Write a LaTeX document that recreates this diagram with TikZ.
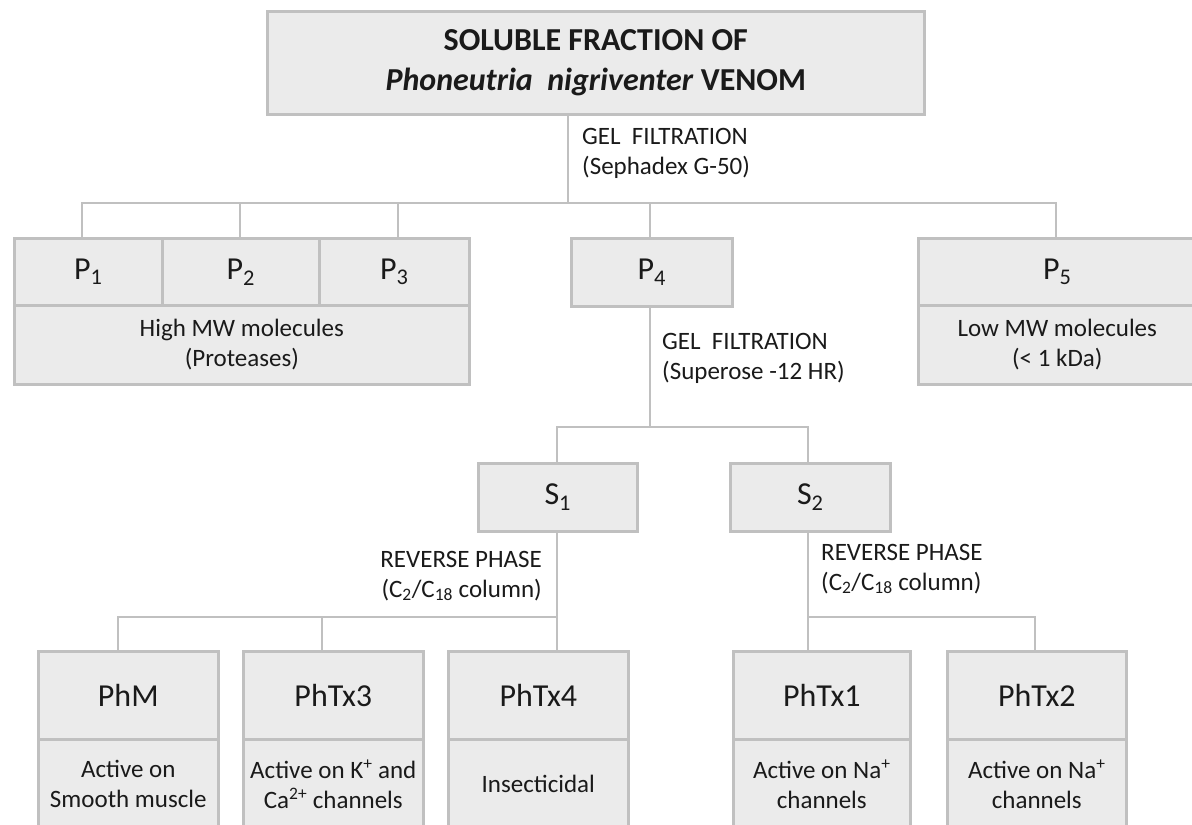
\documentclass[tikz,border=0pt]{standalone}
\usepackage{fontspec}
\setmainfont{Carlito}
\definecolor{boxfill}{HTML}{EBEBEB}
\definecolor{boxline}{HTML}{C0C0C0}
\definecolor{txt}{HTML}{1A1A1A}
\tikzset{
  box/.style={draw=boxline, fill=boxfill, line width=2.6pt, inner sep=0pt, text=txt, align=center, anchor=north west},
  conn/.style={draw=boxline, line width=2.2pt},
  lbl/.style={inner sep=0pt, text=txt, font=\fontsize{25}{30}\selectfont},
  big/.style={font=\fontsize{32}{36}\selectfont},
  desc/.style={font=\fontsize{25}{30}\selectfont},
}
\begin{document}
\begin{tikzpicture}[x=1pt,y=-1pt]
\useasboundingbox (0,0) rectangle (1192,825);
\clip (0,0) rectangle (1192,825);
\fill[white] (0,0) rectangle (1192,825);

% ---------- junction coordinates ----------
\coordinate (j0) at (568,203);
\coordinate (c1) at (82,203);
\coordinate (c2) at (240,203);
\coordinate (c3) at (398,203);
\coordinate (c4) at (650,203);
\coordinate (c5) at (1056,203);
\coordinate (j1) at (650,427);
\coordinate (s1x) at (557,427);
\coordinate (s2x) at (808,427);
\coordinate (k1) at (557,617);
\coordinate (kM) at (118,617);
\coordinate (k3) at (322,617);
\coordinate (k2) at (808,617);
\coordinate (kT2) at (1035,617);

% ---------- boxes ----------
\node[box, minimum width=657pt, minimum height=103pt, font=\bfseries\fontsize{32}{40}\selectfont] (top) at (266,10)
  {SOLUBLE FRACTION OF\\\textit{Phoneutria\ \ nigriventer} VENOM};

\node[box, big, minimum width=148pt, minimum height=67pt] (P1) at (13,237) {P\textsubscript{1}};
\node[box, big, minimum width=157pt, minimum height=67pt] (P2) at (161,237) {P\textsubscript{2}};
\node[box, big, minimum width=150pt, minimum height=67pt] (P3) at (318,237) {P\textsubscript{3}};
\node[box, desc, minimum width=455pt, minimum height=79pt] (HMW) at (13,304) {High MW molecules\\(Proteases)};

\node[box, big, minimum width=161pt, minimum height=68pt] (P4) at (570,237) {P\textsubscript{4}};

\node[box, big, minimum width=278pt, minimum height=67pt] (P5) at (917,237) {P\textsubscript{5}};
\node[box, desc, minimum width=278pt, minimum height=79pt] (LMW) at (917,304) {Low MW molecules\\(< 1 kDa)};

\node[box, big, minimum width=159pt, minimum height=68pt] (S1) at (477,462) {S\textsubscript{1}};
\node[box, big, minimum width=160pt, minimum height=68pt] (S2) at (729,462) {S\textsubscript{2}};

\node[box, big, minimum width=180pt, minimum height=88pt] (PhM) at (37,650) {PhM};
\node[box, desc, minimum width=180pt, minimum height=90pt] (PhMd) at (37,738) {Active on\\Smooth muscle};
\node[box, big, minimum width=180pt, minimum height=88pt] (Tx3) at (242,650) {PhTx3};
\node[box, desc, minimum width=180pt, minimum height=90pt] (Tx3d) at (242,738) {Active on K\textsuperscript{+} and\\Ca\textsuperscript{2+} channels};
\node[box, big, minimum width=180pt, minimum height=88pt] (Tx4) at (447,650) {PhTx4};
\node[box, desc, minimum width=180pt, minimum height=90pt] (Tx4d) at (447,738) {Insecticidal};
\node[box, big, minimum width=177pt, minimum height=88pt] (Tx1) at (732,650) {PhTx1};
\node[box, desc, minimum width=177pt, minimum height=90pt] (Tx1d) at (732,738) {Active on Na\textsuperscript{+}\\channels};
\node[box, big, minimum width=179pt, minimum height=88pt] (Tx2) at (946,650) {PhTx2};
\node[box, desc, minimum width=179pt, minimum height=90pt] (Tx2d) at (946,738) {Active on Na\textsuperscript{+}\\channels};

% ---------- connectors ----------
\draw[conn] (top.south -| j0) -- (j0);
\draw[conn] (P1.north -| c1) -- (c1) -- (c5) -- (P5.north -| c5);
\draw[conn] (c2) -- (P2.north -| c2);
\draw[conn] (c3) -- (P3.north -| c3);
\draw[conn] (c4) -- (P4.north -| c4);

\draw[conn] (P4.south -| j1) -- (j1);
\draw[conn] (S1.north -| s1x) -- (s1x) -- (s2x) -- (S2.north -| s2x);

\draw[conn] (S1.south -| k1) -- (Tx4.north -| k1);
\draw[conn] (PhM.north -| kM) -- (kM) -- (k1);
\draw[conn] (k3) -- (Tx3.north -| k3);

\draw[conn] (S2.south -| k2) -- (Tx1.north -| k2);
\draw[conn] (k2) -- (kT2) -- (Tx2.north -| kT2);

% ---------- labels ----------
\node[lbl, anchor=west, align=left] (g1) at (582,153) {GEL\ \ FILTRATION\\(Sephadex G-50)};
\node[lbl, anchor=west, align=left] (g2) at (662,358) {GEL\ \ FILTRATION\\(Superose -12 HR)};
\node[lbl, anchor=east, align=right] (r1) at (542,576) {REVERSE PHASE\\(C\textsubscript{2}/C\textsubscript{18} column)};
\node[lbl, anchor=west, align=left] (r2) at (821,569) {REVERSE PHASE\\(C\textsubscript{2}/C\textsubscript{18} column)};
\end{tikzpicture}
\end{document}
